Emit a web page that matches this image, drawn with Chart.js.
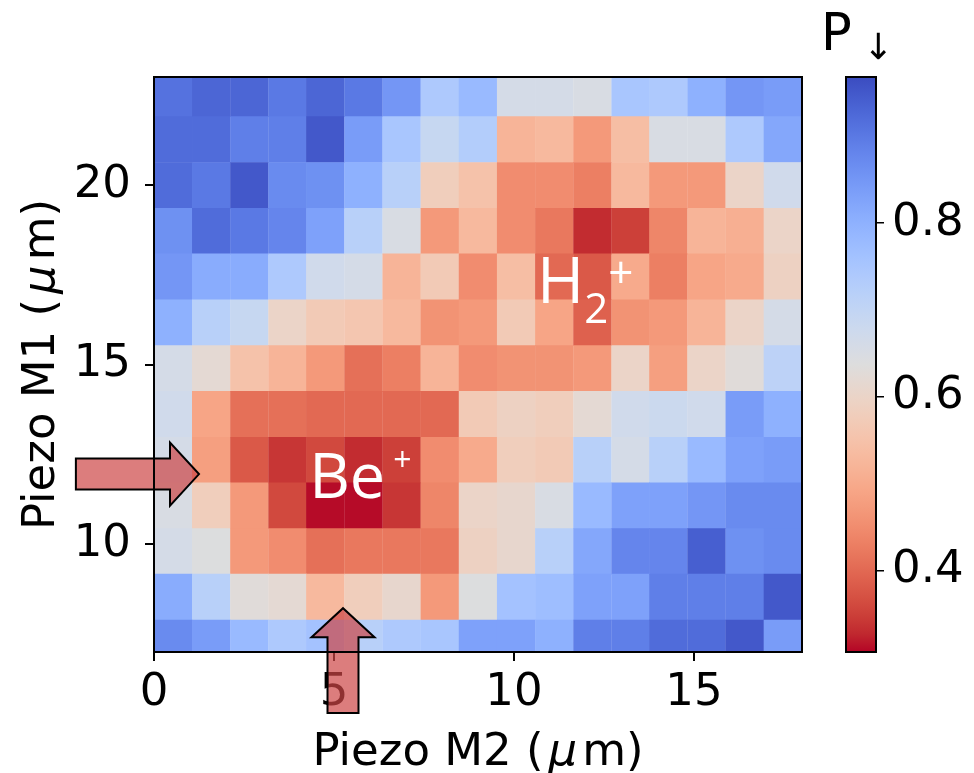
<!DOCTYPE html>
<html lang="en">
<head>
<meta charset="UTF-8">
<title>Piezo scan P↓</title>
<script src="https://cdn.jsdelivr.net/npm/chart.js"></script>
<style>
  body { margin: 0; background: #fff; }
  #wrap { position: relative; width: 974px; height: 773px; }
  #wrap canvas { position: absolute; left: 0; top: 0; }
</style>
</head>
<body>
<div id="wrap">
  <canvas id="mapa" width="974" height="773"></canvas>
  <canvas id="barra" width="974" height="773"></canvas>
</div>
<script>
// column centres along Piezo M2 (um), left to right
const colX = [0.53, 1.59, 2.65, 3.71, 4.76, 5.82, 6.88, 7.94, 9.00, 10.06, 11.12, 12.18, 13.24, 14.29, 15.35, 16.41, 17.47];
// row centres along Piezo M1 (um), top row first
const rowY = [22.53, 21.26, 19.98, 18.71, 17.44, 16.16, 14.89, 13.62, 12.34, 11.07, 9.80, 8.53, 7.25];

// P↓ for each row, left to right
const p_y22_5 = [0.91, 0.93, 0.93, 0.90, 0.93, 0.90, 0.85, 0.74, 0.78, 0.66, 0.66, 0.65, 0.75, 0.74, 0.80, 0.85, 0.84];
const p_y21_3 = [0.92, 0.92, 0.89, 0.89, 0.95, 0.84, 0.75, 0.69, 0.73, 0.52, 0.53, 0.47, 0.54, 0.65, 0.65, 0.74, 0.82];
const p_y20_0 = [0.92, 0.90, 0.95, 0.87, 0.86, 0.80, 0.72, 0.58, 0.55, 0.45, 0.45, 0.43, 0.53, 0.47, 0.47, 0.60, 0.67];
const p_y18_7 = [0.86, 0.92, 0.90, 0.88, 0.83, 0.72, 0.65, 0.47, 0.53, 0.45, 0.42, 0.33, 0.35, 0.44, 0.52, 0.51, 0.60];
const p_y17_4 = [0.85, 0.81, 0.81, 0.74, 0.67, 0.66, 0.52, 0.57, 0.45, 0.54, 0.40, 0.38, 0.50, 0.43, 0.49, 0.50, 0.59];
const p_y16_2 = [0.80, 0.72, 0.69, 0.60, 0.57, 0.56, 0.53, 0.46, 0.47, 0.57, 0.49, 0.39, 0.46, 0.47, 0.52, 0.60, 0.66];
const p_y14_9 = [0.66, 0.62, 0.55, 0.52, 0.47, 0.41, 0.43, 0.52, 0.45, 0.46, 0.46, 0.47, 0.60, 0.48, 0.60, 0.63, 0.71];
const p_y13_6 = [0.67, 0.49, 0.41, 0.41, 0.40, 0.40, 0.40, 0.40, 0.57, 0.59, 0.58, 0.62, 0.67, 0.68, 0.67, 0.84, 0.80];
const p_y12_3 = [0.66, 0.48, 0.38, 0.34, 0.36, 0.33, 0.35, 0.45, 0.50, 0.58, 0.57, 0.72, 0.66, 0.72, 0.78, 0.83, 0.84];
const p_y11_1 = [0.65, 0.58, 0.47, 0.36, 0.31, 0.31, 0.34, 0.44, 0.60, 0.61, 0.65, 0.78, 0.83, 0.83, 0.85, 0.87, 0.87];
const p_y9_8  = [0.66, 0.64, 0.47, 0.45, 0.41, 0.42, 0.42, 0.42, 0.59, 0.61, 0.72, 0.82, 0.88, 0.88, 0.94, 0.86, 0.87];
const p_y8_5  = [0.81, 0.72, 0.63, 0.62, 0.53, 0.58, 0.61, 0.47, 0.64, 0.76, 0.77, 0.83, 0.83, 0.89, 0.89, 0.89, 0.95];
const p_y7_3  = [0.87, 0.84, 0.78, 0.74, 0.76, 0.72, 0.74, 0.75, 0.83, 0.83, 0.80, 0.89, 0.89, 0.92, 0.92, 0.95, 0.84];
const pRows = [p_y22_5, p_y21_3, p_y20_0, p_y18_7, p_y17_4, p_y16_2, p_y14_9, p_y13_6, p_y12_3, p_y11_1, p_y9_8, p_y8_5, p_y7_3];

const xTicks = [0, 5, 10, 15];
const yTicks = [10, 15, 20];
const cbTicks = [0.4, 0.6, 0.8];
const pMin = 0.306, pMax = 0.968;

const rowStep = 1.273; // um per scan row

// coolwarm (Moreland), blue -> red
const coolwarmTable = [
  [59,76,192],[68,90,204],[77,104,215],[87,117,225],[98,130,234],[108,142,241],[119,154,247],[130,165,251],
  [141,176,254],[152,185,255],[163,194,255],[174,201,253],[184,208,249],[194,213,244],[204,217,238],[213,219,230],
  [221,221,221],[229,216,209],[236,211,197],[241,204,185],[245,196,173],[247,187,160],[247,177,148],[247,166,135],
  [244,154,123],[241,141,111],[236,127,99],[229,112,88],[222,96,77],[213,80,66],[203,62,56],[192,40,47],[180,4,38]
];

function coolwarm(t) {
  t = Math.min(1, Math.max(0, t));
  const f = t * (coolwarmTable.length - 1);
  const i = Math.min(Math.floor(f), coolwarmTable.length - 2);
  const r = f - i;
  const a = coolwarmTable[i], b = coolwarmTable[i + 1];
  const c = a.map((v, k) => Math.round(v + (b[k] - v) * r));
  return `rgb(${c[0]},${c[1]},${c[2]})`;
}
// high P↓ is blue, low is red
const colorFor = v => coolwarm((pMax - v) / (pMax - pMin));

const celdas = [];
pRows.forEach((fila, r) => {
  fila.forEach((v, c) => {
    celdas.push({ x: colX[c], y: [rowY[r] - rowStep / 2, rowY[r] + rowStep / 2], v: v });
  });
});

const tickFont = { family: 'DejaVu Sans', size: 45 };

const marco = {
  id: 'marco',
  afterDraw(chart) {
    const { ctx, chartArea: a } = chart;
    ctx.save();
    ctx.strokeStyle = '#000';
    ctx.lineWidth = 2;
    ctx.strokeRect(a.left, a.top, a.right - a.left, a.bottom - a.top);
    ctx.restore();
  }
};

// axis titles with an italic mu, like the mathtext original
function tituloMu(ctx, label, cx, base) {
  const partes = [
    [label + ' (', '45px "DejaVu Sans"'],
    ['\u03bc', 'italic 45px "DejaVu Sans"'],
    ['m)', '45px "DejaVu Sans"']
  ];
  const anchos = partes.map(([t, f]) => { ctx.font = f; return ctx.measureText(t).width; });
  const hueco = 5;
  const total = anchos.reduce((s, w) => s + w, 0) + 2 * hueco;
  let x = cx - total / 2;
  partes.forEach(([t, f], i) => {
    ctx.font = f;
    ctx.fillText(t, x, base);
    x += anchos[i] + (i < 2 ? hueco : 0);
  });
}

const titulos = {
  id: 'titulos',
  afterDraw(chart) {
    const { ctx, chartArea: a } = chart;
    ctx.save();
    ctx.fillStyle = '#000';
    ctx.textAlign = 'left';
    ctx.textBaseline = 'alphabetic';
    tituloMu(ctx, 'Piezo M2', (a.left + a.right) / 2, 765);
    ctx.translate(54, (a.top + a.bottom) / 2);
    ctx.rotate(-Math.PI / 2);
    tituloMu(ctx, 'Piezo M1', 0, 0);
    ctx.restore();
  }
};

// ion labels and the two beam arrows
const etiquetas = {
  id: 'etiquetas',
  afterDatasetsDraw(chart) {
    const { ctx, scales: { x, y } } = chart;
    ctx.save();
    ctx.fillStyle = '#fff';
    ctx.textBaseline = 'alphabetic';
    ctx.textAlign = 'left';

    let px = x.getPixelForValue(4.31), py = y.getPixelForValue(11.29);
    ctx.font = '63px "Open Sans"';
    ctx.fillText('Be', px, py);
    let w = ctx.measureText('Be').width;
    ctx.font = '32px "Open Sans"';
    ctx.fillText('+', px + w + 8, py - 27);

    px = x.getPixelForValue(10.64); py = y.getPixelForValue(16.71);
    ctx.font = '64px "Open Sans"';
    ctx.fillText('H', px, py);
    w = ctx.measureText('H').width;
    ctx.font = '42px "Open Sans"';
    ctx.fillText('2', px + w, py + 20);
    const w2 = ctx.measureText('2').width;
    ctx.font = '44px "Open Sans"';
    ctx.fillText('+', px + w + w2, py - 15);
    ctx.restore();
  },
  afterDraw(chart) {
    const { ctx, scales: { x, y } } = chart;
    const flecha = (x0, y0, x1, y1) => {
      const ax = x.getPixelForValue(x0), ay = y.getPixelForValue(y0);
      const bx = x.getPixelForValue(x1), by = y.getPixelForValue(y1);
      const len = Math.hypot(bx - ax, by - ay);
      const ux = (bx - ax) / len, uy = (by - ay) / len;
      const nx = -uy, ny = ux;
      const sw = 15.5, hw = 31.5, hl = 29;
      const p = [
        [ax + nx * sw, ay + ny * sw],
        [bx - ux * hl + nx * sw, by - uy * hl + ny * sw],
        [bx - ux * hl + nx * hw, by - uy * hl + ny * hw],
        [bx, by],
        [bx - ux * hl - nx * hw, by - uy * hl - ny * hw],
        [bx - ux * hl - nx * sw, by - uy * hl - ny * sw],
        [ax - nx * sw, ay - ny * sw]
      ];
      ctx.beginPath();
      p.forEach((q, i) => i ? ctx.lineTo(q[0], q[1]) : ctx.moveTo(q[0], q[1]));
      ctx.closePath();
      ctx.fillStyle = 'rgba(205,70,70,0.7)';
      ctx.fill();
      ctx.lineWidth = 2;
      ctx.strokeStyle = '#000';
      ctx.stroke();
    };
    ctx.save();
    flecha(-2.17, 11.95, 1.25, 11.95);
    flecha(5.25, 5.30, 5.25, 8.22);
    ctx.restore();
  }
};

new Chart(document.getElementById('mapa'), {
  type: 'bar',
  data: {
    datasets: [{
      data: celdas,
      backgroundColor: c => c.raw ? colorFor(c.raw.v) : '#ddd',
      borderWidth: 0,
      barPercentage: 1,
      categoryPercentage: 1
    }]
  },
  options: {
    responsive: false,
    animation: false,
    events: [],
    devicePixelRatio: 1,
    layout: { padding: { left: 0, right: 172, top: 77, bottom: 0 } },
    plugins: { legend: { display: false }, tooltip: { enabled: false } },
    scales: {
      x: {
        type: 'linear', min: 0, max: 18, offset: false,
        afterBuildTicks: s => { s.ticks = xTicks.map(v => ({ value: v })); },
        afterFit: s => { s.height = 121; },
        grid: { offset: false, drawOnChartArea: false, tickLength: 9, color: '#000', lineWidth: 2 },
        border: { display: false },
        ticks: { color: '#000', font: tickFont, padding: 5, maxRotation: 0 }
      },
      y: {
        type: 'linear', min: 7, max: 23,
        afterBuildTicks: s => { s.ticks = yTicks.map(v => ({ value: v })); },
        afterFit: s => { s.width = 154; },
        grid: { drawOnChartArea: false, tickLength: 9, color: '#000', lineWidth: 2 },
        border: { display: false },
        ticks: { color: '#000', font: tickFont, padding: 14 }
      }
    }
  },
  plugins: [etiquetas, titulos, marco]
});

// colour bar
const rotulo = {
  id: 'rotulo',
  afterDraw(chart) {
    const { ctx, chartArea: a } = chart;
    ctx.save();
    ctx.fillStyle = '#000';
    ctx.textBaseline = 'alphabetic';
    ctx.font = '51px "DejaVu Sans"';
    ctx.fillText('P', a.left - 25, a.top - 27);
    ctx.font = '36px "DejaVu Sans"';
    ctx.fillText('\u2193', a.left + 17, a.top - 18);
    ctx.restore();
  }
};

new Chart(document.getElementById('barra'), {
  type: 'bar',
  data: {
    labels: ['P'],
    datasets: [{
      data: [[pMin, pMax]],
      backgroundColor: c => {
        const ch = c.chart;
        if (!ch.chartArea) return '#ddd';
        const ys = ch.scales.y;
        const g = ch.ctx.createLinearGradient(0, ys.getPixelForValue(pMax), 0, ys.getPixelForValue(pMin));
        coolwarmTable.forEach((rgb, k) => g.addColorStop(k / (coolwarmTable.length - 1), `rgb(${rgb.join(',')})`));
        return g;
      },
      borderWidth: 0,
      barPercentage: 1,
      categoryPercentage: 1
    }]
  },
  options: {
    responsive: false,
    animation: false,
    events: [],
    devicePixelRatio: 1,
    layout: { padding: { left: 846, right: 0, top: 77, bottom: 121 } },
    plugins: { legend: { display: false }, tooltip: { enabled: false } },
    scales: {
      x: { display: false },
      y: {
        position: 'right', min: pMin, max: pMax,
        afterBuildTicks: s => { s.ticks = cbTicks.map(v => ({ value: v })); },
        afterFit: s => { s.width = 98; },
        grid: { drawOnChartArea: false, tickLength: 8, color: '#000', lineWidth: 1.5 },
        border: { display: false },
        ticks: { color: '#000', font: tickFont, padding: 8, callback: v => v.toFixed(1) }
      }
    }
  },
  plugins: [rotulo, marco]
});
</script>
</body>
</html>
